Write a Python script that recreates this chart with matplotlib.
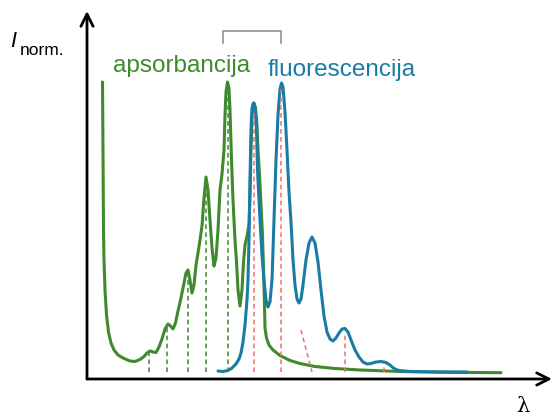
import matplotlib.pyplot as plt

# Absorption spectrum (wavelength, intensity) in arbitrary units
abs_x = [15.5, 16, 16.5, 17, 18, 19.5, 21.5, 24, 27, 31, 37, 43, 48, 53, 57, 60, 63, 66, 69,
         72, 75, 78, 81, 83.5, 86, 88.5, 91, 94, 97, 99, 101, 103, 105, 107, 109, 111, 113,
         115, 117, 119, 121, 123, 125, 127, 129, 131, 133, 135, 137, 138, 139, 140.5, 142,
         143, 144.5, 146, 148, 149.5, 151, 153, 155, 156.5, 158, 160, 162, 163, 164, 165,
         166, 167, 168.5, 170, 171, 172.5, 174, 175.5, 176.5, 177.5, 178, 179.5, 182, 186,
         193, 203, 213, 228, 248, 273, 313, 363, 414]
abs_y = [297, 229, 149, 119, 89, 64, 47, 36, 29, 24, 20.5, 18, 17.5, 19.5, 22.5, 26, 28, 27,
         26.5, 32, 40, 50, 55, 53, 50, 56, 68, 81, 96, 106, 109, 99, 86, 94, 114, 126, 139,
         153, 181, 202, 189, 159, 131, 113, 121, 149, 189, 205, 229, 264, 287, 297, 291,
         269, 219, 179, 139, 117, 89, 73, 89, 117, 134, 143, 154, 184, 229, 262, 275, 276,
         271, 254, 229, 204, 174, 144, 109, 74, 51, 41, 34, 29, 23.5, 18.5, 15.5, 12.5,
         10.5, 9, 7.5, 6.7, 6.3]

# Fluorescence spectrum
fl_x = [131, 136, 141, 145, 149, 152, 154, 156, 158, 160, 161, 162, 163, 164, 165, 166.5,
        168, 169.5, 170.5, 172, 173, 175, 177, 179, 181, 183, 185, 186, 187, 189, 191, 193,
        194.5, 196, 198, 200, 202, 204, 206, 208, 210, 212, 214, 216, 219, 222, 225, 228,
        231, 234, 237, 240, 243, 246, 249, 252, 255, 258, 261, 264, 268, 272, 276, 280,
        284, 289, 294, 299, 303, 307, 312, 323, 353, 380]
fl_y = [8, 7.5, 8.5, 11, 15, 20, 26, 37, 54, 79, 99, 139, 199, 249, 271, 276, 272, 249,
        209, 179, 159, 124, 99, 79, 72, 77, 99, 129, 159, 219, 264, 290, 296, 292, 267,
        229, 187, 157, 119, 94, 80, 76, 80, 94, 119, 136, 142, 136, 117, 89, 63, 47, 40,
        38, 41, 46, 50, 50.5, 47, 39, 29, 22, 17, 15, 15.5, 17, 17.5, 16.5, 14, 10.5, 8.5,
        7.5, 7, 7]

# Vibronic transitions
abs_lines_x = [62, 80, 101, 119, 141]
abs_lines_top = [26, 52, 106, 199, 289]
em_lines_x = [167, 194, 258, 297]
em_lines_top = [269, 291, 46, 16]
em_slant_x = [214, 225]
em_slant_y = [49, 7]
line_bottom = 7.5

green = '#3e8a2c'
blue = '#1a7ca5'
red = '#f26b6b'

plt.rcParams['font.family'] = ['Liberation Sans', 'DejaVu Sans']
fig = plt.figure(figsize=(5.53, 4.16), dpi=100)
ax = fig.add_axes([0, 0, 1, 1])
ax.set_xlim(-87, 466)
ax.set_ylim(-37, 379)
ax.axis('off')

# dashed transition lines
for x, top in zip(abs_lines_x, abs_lines_top):
    ax.plot([x, x], [line_bottom, top], color=green, lw=1.1, ls=(0, (3, 2.2)), zorder=3)
for x, top in zip(em_lines_x, em_lines_top):
    ax.plot([x, x], [line_bottom, top], color=red, lw=1.1, ls=(0, (3, 2.2)), zorder=3)
ax.plot(em_slant_x, em_slant_y, color=red, lw=1.1, ls=(0, (3, 2.2)), zorder=3)

# spectra
ax.plot(abs_x, abs_y, color=green, lw=2.2, solid_capstyle='round', zorder=2)
ax.plot(fl_x, fl_y, color=blue, lw=2.2, solid_capstyle='round', zorder=2)

# axes arrows
ax.annotate('', xy=(0, 368), xytext=(0, 0),
            arrowprops=dict(arrowstyle='->', lw=2, color='black', mutation_scale=22,
                            shrinkA=0, shrinkB=0))
ax.annotate('', xy=(465, 0), xytext=(0, 0),
            arrowprops=dict(arrowstyle='->', lw=2, color='black', mutation_scale=22,
                            shrinkA=0, shrinkB=0))

# Stokes shift bracket
ax.plot([136, 136, 194, 194], [336, 348, 348, 336], color='#888888', lw=1.1)

# labels
ax.text(26, 307, 'apsorbancija', color=green, fontsize=17.5, va='baseline')
ax.text(181, 303, 'fluorescencija', color=blue, fontsize=17.5, va='baseline')
ax.text(-77, 332, 'I', fontsize=15.5, style='italic', va='baseline')
ax.text(-67, 324, 'norm.', fontsize=12.5, va='baseline')
ax.text(436, -18, 'λ', fontsize=15, family='DejaVu Serif', ha='center', va='top')

fig.savefig('out.png', dpi=100)
